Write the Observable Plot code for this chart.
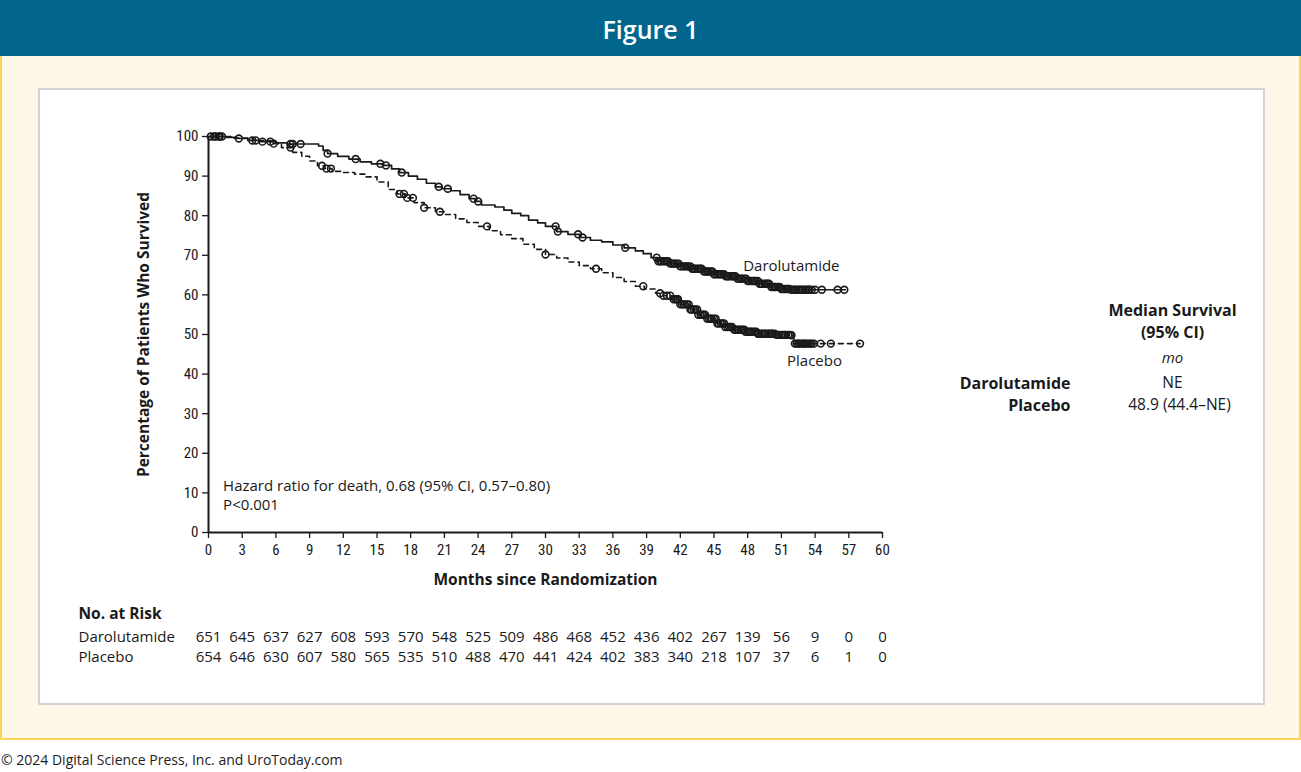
<!DOCTYPE html>
<html>
<head>
<meta charset="utf-8">
<script src="https://cdn.jsdelivr.net/npm/d3@7"></script>
<script src="https://cdn.jsdelivr.net/npm/@observablehq/plot@0.6"></script>
<style>
  html, body { margin: 0; padding: 0; background: #ffffff; width: 1301px; height: 772px; overflow: hidden; }
  #header { position: absolute; left: 0; top: 0; width: 1301px; height: 56px; background: #02668c;
    color: #fff; font-family: "Open Sans", sans-serif; font-weight: 600; font-size: 25px;
    text-align: center; line-height: 58px; }
  #panel { position: absolute; left: 0; top: 56px; width: 1297px; height: 682px; background: #fff8e9;
    border: 2px solid #fbd35a; border-top: none; }
  #box { position: absolute; left: 38px; top: 88px; width: 1223px; height: 613px; background: #fff;
    border: 2px solid #d3d3d3; }
  #footer { position: absolute; left: 1px; top: 750px; font-family: "Open Sans", sans-serif; font-size: 14px; color: #222; }
  #chart svg { display: block; }
</style>
</head>
<body>
<div id="header">Figure 1</div>
<div id="panel"></div>
<div id="box"><div id="chart"></div></div>
<div id="footer">© 2024 Digital Science Press, Inc. and UroToday.com</div>
<script>
// ---- Kaplan–Meier step curves (months, % surviving) ----
const daroMonths = [0,1.5,2.5,3.5,4.5,6.0,7.0,9.8,10.2,10.6,11.5,12.5,13.5,14.5,15.5,16.3,17.0,17.8,18.6,19.4,20.2,20.8,21.6,22.4,23.2,23.8,24.3,25.5,26.3,27.0,27.8,28.5,29.3,30.0,31.0,32.0,33.1,34.0,35.0,36.0,37.0,38.0,38.7,39.4,40.0,41.0,42.0,43.0,44.0,45.0,46.0,47.0,48.0,49.0,50.0,51.0,51.8,56.7];
const daroPct    = [100,99.8,99.5,99.0,98.7,98.4,98.1,97.6,96.5,95.7,95.0,94.3,93.6,93.1,92.7,91.8,90.9,90.0,89.2,88.2,87.3,86.8,86.3,85.3,84.3,83.6,82.7,82.2,81.4,80.6,80.0,78.9,78.2,77.3,76.0,75.3,74.5,73.8,73.4,72.6,71.9,71.1,70.4,69.4,68.5,67.9,67.2,66.6,65.9,65.2,64.7,64.1,63.5,62.8,62.0,61.5,61.3,61.3];
const placMonths = [0,2,4,5.5,6.5,7.5,8.3,9.0,9.7,10.3,11.0,12.0,13.0,14.0,15.0,16.0,16.8,17.5,18.3,19.2,20.2,21.0,22.0,23.0,24.0,25.0,26.0,27.0,28.0,29.0,30.0,31.0,32.0,33.0,34.0,35.0,36.0,37.0,38.0,38.8,39.8,40.5,41.2,42.0,42.8,43.6,44.4,45.2,46.0,46.8,47.8,48.8,50.5,51.9,52.1,58.0];
const placPct    = [100,99.6,99.0,98.2,97.2,96.0,95.0,93.8,92.6,91.9,91.2,90.9,90.5,89.8,88.5,86.6,85.5,84.5,83.3,82.0,81.0,80.3,79.2,78.3,77.3,76.2,75.2,74.2,72.8,71.5,70.2,69.3,68.3,67.4,66.6,65.6,64.4,63.4,62.2,61.5,60.4,59.8,58.9,57.6,56.3,55.0,54.0,52.8,51.9,51.2,50.7,50.2,49.9,49.8,47.7,47.7];

// ---- censoring marks (months) ----
const daroCensor = [0.2,0.6,0.9,1.2,2.7,3.9,4.2,4.8,5.5,7.3,7.5,8.2,10.6,13.1,15.3,15.8,17.2,20.5,21.3,23.6,24.0,30.9,31.1,32.9,33.3,37.1,
  39.9,40.05,40.2,40.3,40.5,40.65,40.8,40.9,41.1,41.25,41.4,41.5,41.7,41.85,42.0,42.1,42.3,42.45,42.6,42.7,42.9,43.05,43.2,43.3,43.5,43.65,43.8,43.9,44.1,44.25,44.4,44.5,44.7,44.85,45.0,45.1,45.3,45.45,45.6,45.7,45.9,46.05,46.2,46.3,46.5,46.65,46.8,46.9,47.1,47.25,47.4,47.5,47.7,47.85,48.0,48.1,48.3,48.45,48.6,48.7,48.9,49.05,49.2,49.3,49.5,49.65,49.8,49.9,50.1,50.25,50.4,50.5,50.7,50.85,51.0,51.1,51.3,51.45,51.6,51.7,51.9,52.05,52.2,52.3,52.5,52.65,52.8,52.9,53.1,53.25,53.4,53.5,53.7,54.0,54.6,56.0,56.6];
const placCensor = [0.5,1.0,5.8,7.3,10.1,10.5,10.9,17.0,17.4,17.7,18.2,19.2,20.6,24.8,30.0,34.5,38.7,
  40.2,40.5,40.8,41.1,41.4,41.55,41.7,41.8,42.0,42.15,42.3,42.4,42.6,42.75,42.9,43.0,43.2,43.35,43.5,43.6,43.8,43.95,44.1,44.2,44.4,44.55,44.7,44.8,45.0,45.15,45.3,45.4,45.6,45.75,45.9,46.0,46.2,46.35,46.5,46.6,46.8,46.95,47.1,47.2,47.4,47.55,47.7,47.8,48.0,48.15,48.3,48.4,48.6,48.75,48.9,49.0,49.2,49.35,49.5,49.6,49.8,49.95,50.1,50.2,50.4,50.55,50.7,50.8,51.0,51.15,51.3,51.4,51.6,51.75,51.9,
  52.2,52.35,52.5,52.6,52.8,52.95,53.1,53.2,53.4,53.55,53.7,53.9,54.5,55.4,58.0];

// ---- number at risk ----
const riskMonths = [0,3,6,9,12,15,18,21,24,27,30,33,36,39,42,45,48,51,54,57,60];
const daroRisk = [651,645,637,627,608,593,570,548,525,509,486,468,452,436,402,267,139,56,9,0,0];
const placRisk = [654,646,630,607,580,565,535,510,488,470,441,424,402,383,340,218,107,37,6,1,0];

const xTicks = [0,3,6,9,12,15,18,21,24,27,30,33,36,39,42,45,48,51,54,57,60];
const yTicks = [0,10,20,30,40,50,60,70,80,90,100];

// ---- build tables ----
const daro = daroMonths.map((m, i) => ({month: m, pct: daroPct[i]}));
const plac = placMonths.map((m, i) => ({month: m, pct: placPct[i]}));
function survAt(curve, t) { let v = curve[0].pct; for (const d of curve) if (d.month <= t) v = d.pct; return v; }
const daroC = daroCensor.map(t => ({month: t, pct: survAt(daro, t)}));
const placC = placCensor.map(t => ({month: t, pct: survAt(plac, t)}));
const daroRiskRows = riskMonths.map((m, i) => ({month: m, n: daroRisk[i]}));
const placRiskRows = riskMonths.map((m, i) => ({month: m, n: placRisk[i]}));

const FONT = "'Open Sans', 'Noto Sans', sans-serif";
const NARROW = "'Liberation Sans Narrow', 'Roboto Condensed', 'DejaVu Sans Condensed', sans-serif";
const ink = "#1a1a1a";

// a free-standing label anchored to the frame
const note = (s, o) => Plot.text([s], {text: d => d, fill: ink, fontSize: 15, lineAnchor: "middle", ...o});

const chart = Plot.plot({
  width: 1223,
  height: 613,
  marginLeft: 168,
  marginRight: 381,
  marginTop: 46,
  marginBottom: 171,
  style: {fontFamily: FONT, fontSize: "14px", color: ink, background: "white", overflow: "visible"},
  x: {domain: [0, 60], axis: null},
  y: {domain: [0, 100], axis: null},
  marks: [
    Plot.axisX({ticks: xTicks, tickSize: 6, tickPadding: 6, fontSize: 15, label: null, stroke: ink, strokeWidth: 1.3, fontFamily: NARROW}),
    Plot.axisY({ticks: yTicks, tickSize: 6, tickPadding: 4, fontSize: 15, label: null, stroke: ink, strokeWidth: 1.3, fontFamily: NARROW}),
    Plot.ruleY([0], {stroke: ink, strokeWidth: 2}),
    Plot.ruleX([0], {stroke: ink, strokeWidth: 2}),
    // curves
    Plot.line(plac, {x: "month", y: "pct", curve: "step-after", stroke: ink, strokeWidth: 1.6, strokeDasharray: "5,4"}),
    Plot.line(daro, {x: "month", y: "pct", curve: "step-after", stroke: ink, strokeWidth: 1.7}),
    Plot.dot(placC, {x: "month", y: "pct", r: 3.4, stroke: ink, strokeWidth: 1.6, fill: "none"}),
    Plot.dot(daroC, {x: "month", y: "pct", r: 3.4, stroke: ink, strokeWidth: 1.6, fill: "none"}),
    // series labels
    Plot.text(["Darolutamide"], {x: 47.6, y: 67.3, text: d => d, textAnchor: "start", fontSize: 15, fill: ink}),
    Plot.text(["Placebo"], {x: 51.5, y: 43.3, text: d => d, textAnchor: "start", fontSize: 15, fill: ink}),
    // hazard ratio annotation
    Plot.text(["Hazard ratio for death, 0.68 (95% CI, 0.57–0.80)"], {x: 1.3, y: 11.7, text: d => d, textAnchor: "start", fontSize: 15, fill: ink}),
    Plot.text(["P<0.001"], {x: 1.3, y: 7.0, text: d => d, textAnchor: "start", fontSize: 15, fill: ink}),
    // axis titles
    note("Months since Randomization", {frameAnchor: "bottom", textAnchor: "middle", dy: 48, fontWeight: "bold", fontSize: 15.5}),
    note("Percentage of Patients Who Survived", {frameAnchor: "left", textAnchor: "middle", dx: -64, rotate: -90, fontWeight: "bold", fontSize: 15.5}),
    // number at risk
    note("No. at Risk", {frameAnchor: "bottom-left", textAnchor: "start", dx: -130, dy: 82, fontWeight: "bold", fontSize: 15.5}),
    note("Darolutamide", {frameAnchor: "bottom-left", textAnchor: "start", dx: -130, dy: 105}),
    note("Placebo", {frameAnchor: "bottom-left", textAnchor: "start", dx: -130, dy: 125}),
    Plot.text(daroRiskRows, {x: "month", y: 0, dy: 105, text: d => String(d.n), fontSize: 15, fill: ink}),
    Plot.text(placRiskRows, {x: "month", y: 0, dy: 125, text: d => String(d.n), fontSize: 15, fill: ink}),
    // median survival table
    note("Median Survival", {frameAnchor: "right", textAnchor: "middle", dx: 290, dy: -24, fontWeight: "bold", fontSize: 16}),
    note("(95% CI)", {frameAnchor: "right", textAnchor: "middle", dx: 290, dy: -2, fontWeight: "bold", fontSize: 16}),
    note("mo", {frameAnchor: "right", textAnchor: "middle", dx: 290, dy: 24, fontStyle: "italic"}),
    note("Darolutamide", {frameAnchor: "right", textAnchor: "end", dx: 188, dy: 49, fontWeight: "bold", fontSize: 16}),
    note("Placebo", {frameAnchor: "right", textAnchor: "end", dx: 188, dy: 71, fontWeight: "bold", fontSize: 16}),
    note("NE", {frameAnchor: "right", textAnchor: "middle", dx: 290, dy: 49, fontSize: 15.5}),
    note("48.9 (44.4–NE)", {frameAnchor: "right", textAnchor: "middle", dx: 297, dy: 71, fontSize: 15.5})
  ]
});
document.getElementById("chart").appendChild(chart);
</script>
</body>
</html>
